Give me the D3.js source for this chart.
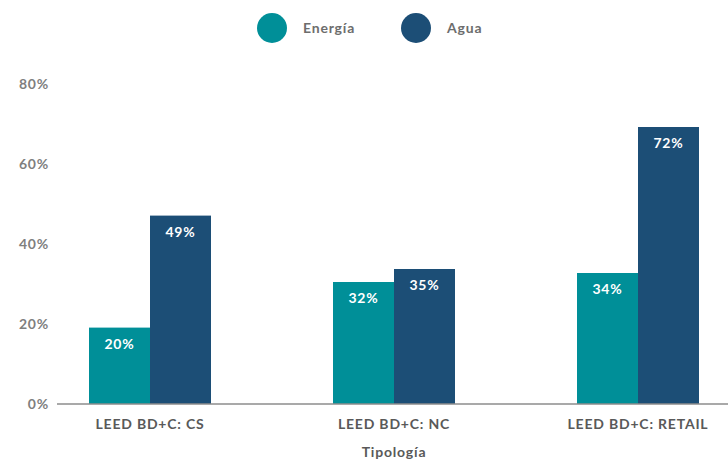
<!DOCTYPE html>
<html>
<head>
<meta charset="utf-8">
<script src="https://cdn.jsdelivr.net/npm/d3@7"></script>
<style>
  body { margin: 0; background: #fff; }
  text { font-family: Lato, "Open Sans", sans-serif; font-weight: bold; letter-spacing: 0.8px; }
</style>
</head>
<body>
<script>
const categories = ["LEED BD+C: CS", "LEED BD+C: NC", "LEED BD+C: RETAIL"];
const series = ["Energía", "Agua"];
// bar heights (%), labels as printed on the bars
const energia = [19.1, 30.5, 32.75];
const agua = [47.1, 33.75, 69.25];
const energiaLabels = ["20%", "32%", "34%"];
const aguaLabels = ["49%", "35%", "72%"];
const yTicks = [0, 20, 40, 60, 80];
const colors = ["#008F98", "#1C4E76"];

const WIDTH = 728, HEIGHT = 461;

const svg = d3.select('body')
  .append('svg')
  .attr('width', WIDTH)
  .attr('height', HEIGHT);

const x = d3.scaleBand().domain(categories).range([28, 760]);
const xs = d3.scaleBand().domain(series).range([0, x.bandwidth()]).paddingOuter(1);
const y = d3.scaleLinear().domain([0, 80]).range([404, 84]);
const color = d3.scaleOrdinal().domain(series).range(colors);

// y tick labels
svg.append('g')
  .selectAll('text')
  .data(yTicks)
  .enter()
  .append('text')
  .attr('x', 49)
  .attr('y', d => y(d))
  .attr('dy', '0.35em')
  .attr('text-anchor', 'end')
  .attr('font-size', 14)
  .attr('fill', '#7f7f7f')
  .text(d => d + '%');

const rows = categories.map((c, i) => [
  { cat: c, s: series[0], v: energia[i], label: energiaLabels[i] },
  { cat: c, s: series[1], v: agua[i], label: aguaLabels[i] }
]);

const groups = svg.append('g')
  .selectAll('g')
  .data(rows)
  .enter()
  .append('g')
  .attr('transform', d => 'translate(' + x(d[0].cat) + ',0)');

groups.selectAll('rect')
  .data(d => d)
  .enter()
  .append('rect')
  .attr('x', d => xs(d.s))
  .attr('y', d => y(d.v))
  .attr('width', xs.bandwidth())
  .attr('height', d => y(0) - y(d.v))
  .attr('fill', d => color(d.s));

groups.selectAll('text')
  .data(d => d)
  .enter()
  .append('text')
  .attr('x', d => xs(d.s) + xs.bandwidth() / 2)
  .attr('y', d => y(d.v) + 16)
  .attr('dy', '0.35em')
  .attr('text-anchor', 'middle')
  .attr('font-size', 14)
  .attr('fill', '#fff')
  .text(d => d.label);

// baseline
svg.append('line')
  .attr('x1', 57).attr('x2', WIDTH)
  .attr('y1', y(0)).attr('y2', y(0))
  .attr('stroke', '#8c8c8c')
  .attr('stroke-width', 1.5);

// category labels
svg.append('g')
  .selectAll('text')
  .data(categories)
  .enter()
  .append('text')
  .attr('x', d => x(d) + x.bandwidth() / 2)
  .attr('y', 429)
  .attr('text-anchor', 'middle')
  .attr('font-size', 14)
  .attr('fill', '#595959')
  .text(d => d);

svg.append('text')
  .attr('x', x(categories[1]) + x.bandwidth() / 2)
  .attr('y', 457)
  .attr('text-anchor', 'middle')
  .attr('font-size', 14)
  .attr('fill', '#595959')
  .text('Tipología');

// legend
const legendX = [272, 416];
const legend = svg.append('g')
  .selectAll('g')
  .data(series)
  .enter()
  .append('g')
  .attr('transform', (d, i) => 'translate(' + legendX[i] + ',28)');

legend.append('circle')
  .attr('r', 15)
  .attr('fill', d => color(d));

legend.append('text')
  .attr('x', 31)
  .attr('dy', '0.35em')
  .attr('font-size', 14)
  .attr('fill', '#6d6d6d')
  .text(d => d);
</script>
</body>
</html>
